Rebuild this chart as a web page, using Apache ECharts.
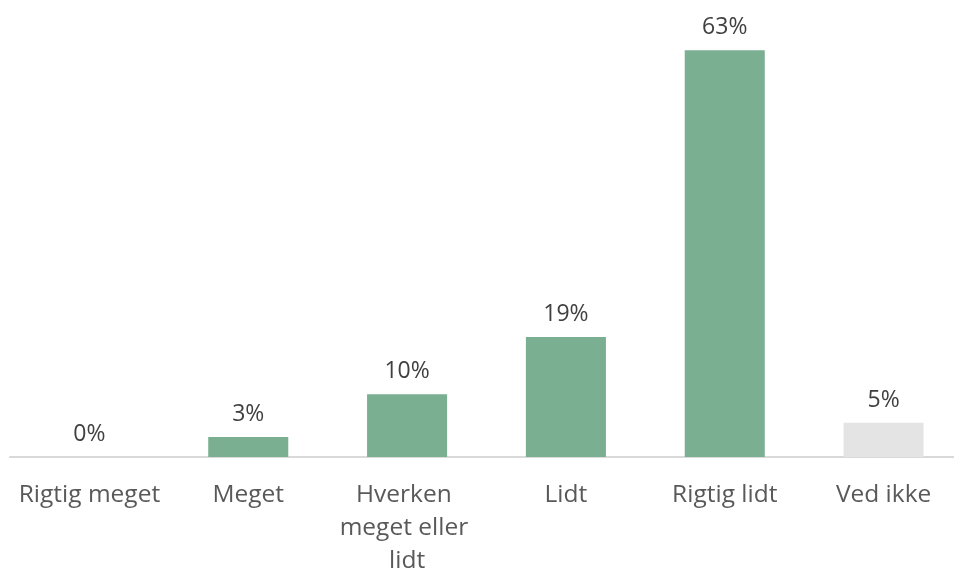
<!DOCTYPE html>
<html>
<head>
<meta charset="utf-8">
<script src="https://cdn.jsdelivr.net/npm/echarts@6/dist/echarts.min.js"></script>
<style>
html,body{margin:0;padding:0;background:#fff;}
#c{width:954px;height:571px;}
</style>
</head>
<body>
<div id="c"></div>
<script>
var categories = ['Rigtig meget', 'Meget', 'Hverken meget eller lidt', 'Lidt', 'Rigtig lidt', 'Ved ikke'];
var values = [0, 3.1, 9.7, 18.6, 63, 5.3];
var barColors = ['#7BAF92', '#7BAF92', '#7BAF92', '#7BAF92', '#7BAF92', '#E4E4E4'];

var chart = echarts.init(document.getElementById('c'), null, {renderer: 'canvas'});
var FONT = '"Open Sans", "Noto Sans", sans-serif';
chart.setOption({
  animation: false,
  grid: {left: 10, width: 953, top: 5, height: 452, containLabel: false, outerBoundsMode: 'none'},
  xAxis: {
    type: 'category',
    data: categories,
    axisLine: {show: true, lineStyle: {color: '#D9D9D9', width: 2}},
    axisTick: {show: false},
    axisLabel: {
      interval: 0,
      color: '#595959',
      fontFamily: FONT,
      fontSize: 24.5,
      lineHeight: 33,
      margin: 22,
      width: 156,
      overflow: 'break'
    }
  },
  yAxis: {
    type: 'value',
    min: 0,
    max: 70,
    show: false,
    splitLine: {show: false}
  },
  series: [{
    type: 'bar',
    barWidth: '50.4%',
    data: values.map(function (v, i) {
      return {value: v, itemStyle: {color: barColors[i]}};
    }),
    label: {
      show: true,
      position: 'top',
      distance: 11,
      color: '#404040',
      fontFamily: FONT,
      fontSize: 23,
      formatter: function (p) { return Math.round(p.value) + '%'; }
    }
  }]
});
</script>
</body>
</html>
